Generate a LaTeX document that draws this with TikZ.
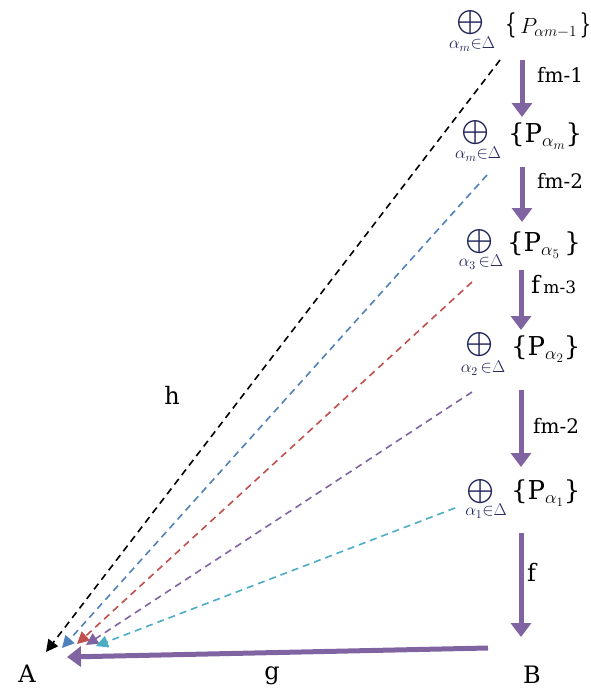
\RequirePackage{fix-cm}
\documentclass[tikz,border=0pt]{standalone}
\usepackage{exscale}
\usepackage{graphicx}
\usepackage{fontspec}
\setmainfont{DejaVu Serif}
\usetikzlibrary{arrows.meta}
\definecolor{vpurple}{RGB}{128,100,162}
\definecolor{dblue}{RGB}{79,129,189}
\definecolor{dred}{RGB}{192,80,77}
\definecolor{dcyan}{RGB}{75,172,198}
\definecolor{navy}{RGB}{31,35,90}
\tikzset{
  opl/.style={inner sep=0pt, text=navy, font=\fontsize{16}{18}\selectfont},
  subl/.style={inner sep=0pt, text=navy, font=\fontsize{17}{20}\selectfont},
  setl/.style={inner sep=0pt, anchor=west, font=\fontsize{26}{30}\selectfont},
  lab/.style={inner sep=0pt, font=\fontsize{20}{24}\selectfont},
  bigl/.style={inner sep=0pt, font=\fontsize{24}{28}\selectfont},
  varrow/.style={vpurple, line width=5pt, -{Triangle[length=14pt,width=20pt]}},
  darrow/.style={line width=1.6pt, dash pattern=on 7pt off 5pt, -{Triangle[length=12pt,width=12pt]}}
}
\begin{document}
\begin{tikzpicture}[x=1pt,y=-1pt]
\useasboundingbox (0,0) rectangle (591,693);
% level 1
\node[opl] (o1) at (471,23) {$\displaystyle\bigoplus$};
\node[subl] (s1) at (472,44) {$\alpha_m{\in}\Delta$};
\node[setl] (p1) at (505,25) {\scalebox{0.7}[1.05]{\{}{\fontsize{22}{24}\selectfont$\mkern3mu P_{\alpha m-1}\mkern2mu$}\scalebox{0.7}[1.05]{\}}};
% level 2
\node[opl] (o2) at (476,133) {$\displaystyle\bigoplus$};
\node[subl] (s2) at (478,154) {$\alpha_m{\in}\Delta$};
\node[setl] (p2) at (508,136) {\{P$_{\alpha_m}$\}};
% level 3
\node[opl] (o3) at (480,242) {$\displaystyle\bigoplus$};
\node[subl] (s3) at (481,262) {$\alpha_3\,{\in}\Delta$};
\node[setl] (p3) at (507,245) {\{P$_{\alpha_5}$\,\}};
% level 4
\node[opl] (o4) at (480,345) {$\displaystyle\bigoplus$};
\node[subl] (s4) at (483,368) {$\alpha_2\,{\in}\Delta$};
\node[setl] (p4) at (511,349) {\{P$_{\alpha_2}$\}};
% level 5
\node[opl] (o5) at (481,492) {$\displaystyle\bigoplus$};
\node[subl] (s5) at (486,511) {$\alpha_1{\in}\Delta$};
\node[setl] (p5) at (511,493) {\{P$_{\alpha_1}$\}};
% A, B
\node[bigl] (A) at (27,674) {A};
\node[bigl] (B) at (532,675) {B};
% vertical arrow ends
\coordinate (t1) at (522,60);  \coordinate (b1) at (522,117);
\coordinate (t2) at (522,167); \coordinate (b2) at (522,222);
\coordinate (t3) at (521,270); \coordinate (b3) at (521,330);
\coordinate (t4) at (521,390); \coordinate (b4) at (521,467);
\coordinate (t5) at (521,533); \coordinate (b5) at (521,637);
\draw[varrow] (t1) -- (b1);
\draw[varrow] (t2) -- (b2);
\draw[varrow] (t3) -- (b3);
\draw[varrow] (t4) -- (b4);
\draw[varrow] (t5) -- (b5);
\node[lab, anchor=west] (l1) at (537,75) {fm-1};
\node[lab, anchor=west] (l2) at (537,181) {fm-2};
\node[lab, anchor=west] (l3) at (531,285) {{\fontsize{24}{28}\selectfont f}\,{\fontsize{17}{20}\selectfont m-3}};
\node[lab, anchor=west] (l4) at (533,426) {fm-2};
\node[bigl, anchor=west] (l5) at (527,572) {f};
% g arrow
\coordinate (gs) at (488,648); \coordinate (ge) at (67,657);
\draw[varrow] (gs) -- (ge);
\node[bigl] (lg) at (272,676) {g};
\node[bigl] (lh) at (172,395) {h};
% dashed arrows
\coordinate (d1s) at (500,60);  \coordinate (d1e) at (46,652);
\coordinate (d2s) at (487,175); \coordinate (d2e) at (62,648);
\coordinate (d3s) at (472,282); \coordinate (d3e) at (77,644);
\coordinate (d4s) at (472,392); \coordinate (d4e) at (86,645);
\coordinate (d5s) at (455,508); \coordinate (d5e) at (96,646);
\draw[darrow, black] (d1s) -- (d1e);
\draw[darrow, dblue] (d2s) -- (d2e);
\draw[darrow, dred] (d3s) -- (d3e);
\draw[darrow, vpurple] (d4s) -- (d4e);
\draw[darrow, dcyan] (d5s) -- (d5e);
\end{tikzpicture}
\end{document}
